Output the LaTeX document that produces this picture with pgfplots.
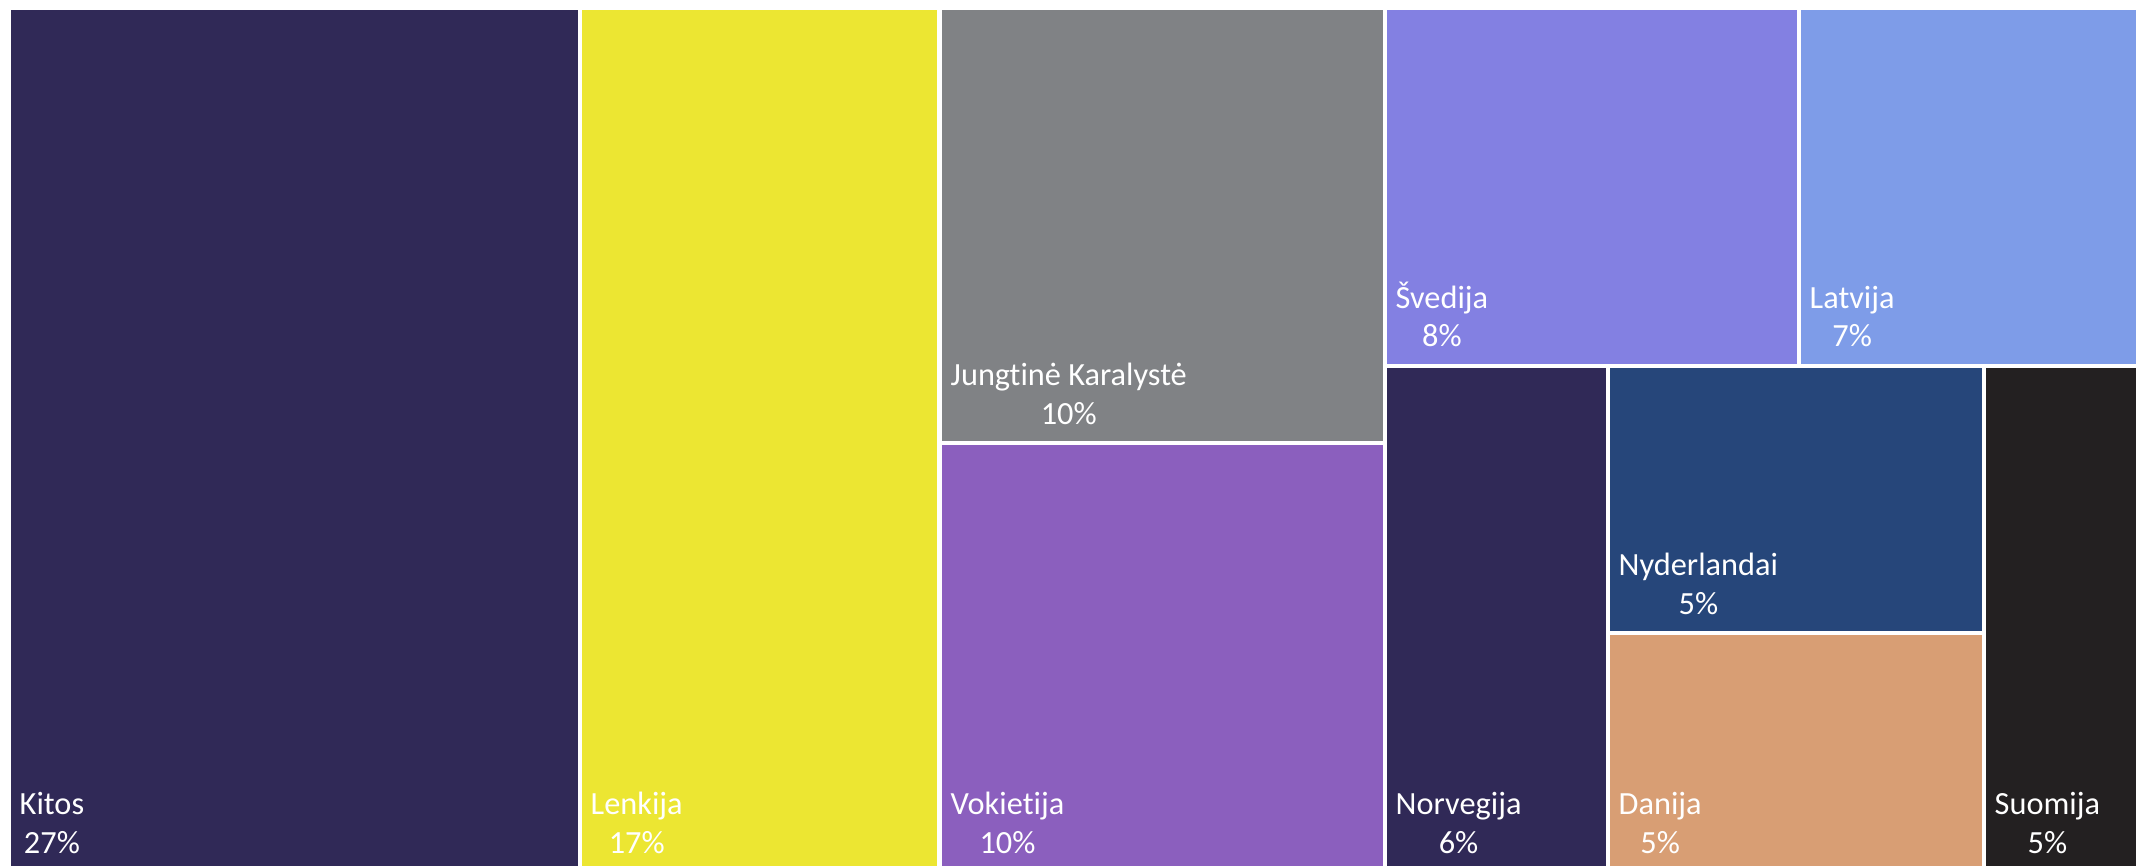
\documentclass[border=0pt]{standalone}
\usepackage{pgfplots}
\pgfplotsset{compat=1.18}
\usepackage{fontspec}
\setmainfont{Carlito}[Ligatures=NoCommon]
\definecolor{cKitos}{RGB}{48,41,87}
\definecolor{cLenk}{RGB}{236,230,50}
\definecolor{cJK}{RGB}{128,130,133}
\definecolor{cVok}{RGB}{139,95,190}
\definecolor{cSve}{RGB}{131,128,226}
\definecolor{cLat}{RGB}{126,156,232}
\definecolor{cNor}{RGB}{48,41,87}
\definecolor{cNyd}{RGB}{38,70,122}
\definecolor{cDan}{RGB}{216,158,116}
\definecolor{cSuo}{RGB}{35,32,33}
\newcommand{\lab}[2]{\fontsize{9.2}{11}\selectfont\begin{tabular}[b]{@{}c@{}}#1\\#2\end{tabular}}
\tikzset{tl/.style={text=white, inner sep=0pt, anchor=base west}}
\begin{document}
\begin{tikzpicture}
\path (0,0) rectangle (21.36cm,8.66cm);
\begin{axis}[
  at={(0,0)}, anchor=south west,
  width=21.36cm, height=8.66cm, scale only axis,
  xmin=0, xmax=2136, ymin=0, ymax=866, y dir=reverse,
  hide axis, clip=true,
]
% rectangles: (x1,y1) (x2,y1) (x2,y2) (x1,y2), pixel units
\addplot[fill=cKitos, draw=none] coordinates {(11,10) (578,10) (578,866) (11,866)} -- cycle;
\addplot[fill=cLenk, draw=none] coordinates {(582,10) (937,10) (937,866) (582,866)} -- cycle;
\addplot[fill=cJK, draw=none] coordinates {(942,10) (1383,10) (1383,441) (942,441)} -- cycle;
\addplot[fill=cVok, draw=none] coordinates {(942,445) (1383,445) (1383,866) (942,866)} -- cycle;
\addplot[fill=cSve, draw=none] coordinates {(1387,10) (1797,10) (1797,364) (1387,364)} -- cycle;
\addplot[fill=cLat, draw=none] coordinates {(1801,10) (2136,10) (2136,364) (1801,364)} -- cycle;
\addplot[fill=cNor, draw=none] coordinates {(1387,368) (1606,368) (1606,866) (1387,866)} -- cycle;
\addplot[fill=cNyd, draw=none] coordinates {(1610,368) (1982,368) (1982,631) (1610,631)} -- cycle;
\addplot[fill=cDan, draw=none] coordinates {(1610,635) (1982,635) (1982,866) (1610,866)} -- cycle;
\addplot[fill=cSuo, draw=none] coordinates {(1986,368) (2136,368) (2136,866) (1986,866)} -- cycle;
% labels
\node[tl] at (axis cs:19,853) {\lab{Kitos}{27\%}};
\node[tl] at (axis cs:590,853) {\lab{Lenkija}{17\%}};
\node[tl] at (axis cs:950,424) {\lab{Jungtinė Karalystė}{10\%}};
\node[tl] at (axis cs:950,853) {\lab{Vokietija}{10\%}};
\node[tl] at (axis cs:1395,347) {\lab{Švedija}{8\%}};
\node[tl] at (axis cs:1809,347) {\lab{Latvija}{7\%}};
\node[tl] at (axis cs:1395,853) {\lab{Norvegija}{6\%}};
\node[tl] at (axis cs:1618,614) {\lab{Nyderlandai}{5\%}};
\node[tl] at (axis cs:1618,853) {\lab{Danija}{5\%}};
\node[tl] at (axis cs:1994,853) {\lab{Suomija}{5\%}};
\end{axis}
\end{tikzpicture}
\end{document}
